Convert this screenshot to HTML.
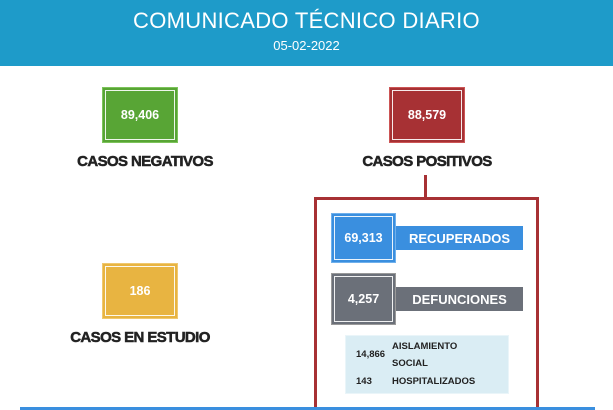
<!DOCTYPE html>
<html><head><meta charset="utf-8"><style>
html,body{margin:0;width:613px;height:410px;overflow:hidden}
body{background:#fff;font-family:"Liberation Sans",sans-serif;position:relative}
.a{position:absolute}
.hdr{left:0;top:0;width:613px;height:66px;background:#1e9bc9;color:#fff;text-align:center}
.box{position:absolute;box-sizing:border-box;color:#fff;font-weight:bold;font-size:12.5px;display:flex;align-items:center;justify-content:center;outline:1px solid rgba(255,255,255,.9);outline-offset:-4px}
.lbl{position:absolute;font-weight:900;font-size:15px;color:#222;text-align:center;letter-spacing:-0.6px;-webkit-text-stroke:0.5px #222}
.bar{position:absolute;color:#fff;font-weight:bold;font-size:13px;display:flex;align-items:center;justify-content:center}
.s{position:absolute;font-size:9.5px;font-weight:bold;color:#222}
</style></head><body>
<div class="a hdr"><div style="font-size:22px;padding-top:8px;letter-spacing:0.3px">COMUNICADO TÉCNICO DIARIO</div><div style="font-size:13px;margin-top:4px">05-02-2022</div></div>

<div class="box" style="left:102px;top:87px;width:76px;height:56px;background:#58a535;border:1px solid #7cc35a">89,406</div>
<div class="lbl" style="left:40px;top:153px;width:210px">CASOS NEGATIVOS</div>

<div class="box" style="left:389px;top:87px;width:76px;height:56px;background:#a73134;border:1px solid #c55">88,579</div>
<div class="lbl" style="left:322px;top:153px;width:210px">CASOS POSITIVOS</div>

<div class="box" style="left:102px;top:263px;width:76px;height:56px;background:#e8b441;border:1px solid #f0c870">186</div>
<div class="lbl" style="left:35px;top:329px;width:210px">CASOS EN ESTUDIO</div>

<div class="a" style="left:424px;top:175px;width:3px;height:23px;background:#a73134"></div>
<div class="a" style="left:314px;top:197px;width:225px;height:230px;box-sizing:border-box;border:3px solid #a73134"></div>

<div class="bar" style="left:396px;top:226px;width:127px;height:24px;background:#3a8fdf">RECUPERADOS</div>
<div class="box" style="left:331px;top:213px;width:65px;height:50px;background:#3a8fdf;border:1px solid #6fb0ec">69,313</div>

<div class="bar" style="left:396px;top:287px;width:127px;height:24px;background:#6b7079">DEFUNCIONES</div>
<div class="box" style="left:331px;top:273px;width:65px;height:52px;background:#6b7079;border:1px solid #999">4,257</div>

<div class="a" style="left:345px;top:335px;width:164px;height:59px;background:#daedf4;border:1px solid #eaf5f9;box-sizing:border-box"></div>
<div class="s" style="left:356px;top:349px">14,866</div>
<div class="s" style="left:392px;top:341px">AISLAMIENTO</div>
<div class="s" style="left:392px;top:358px">SOCIAL</div>
<div class="s" style="left:356px;top:376px">143</div>
<div class="s" style="left:392px;top:376px">HOSPITALIZADOS</div>

<div class="a" style="left:20px;top:407px;width:575px;height:3px;background:#3a8fdf"></div>
</body></html>
